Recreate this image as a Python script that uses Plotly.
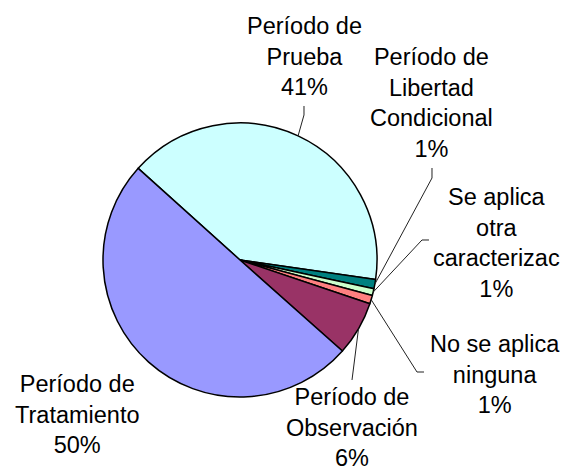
import math
import plotly.graph_objects as go

# ---- data ----
labels = ["Período de Prueba", "Período de Libertad Condicional",
          "Se aplica otra caracterizac", "No se aplica ninguna",
          "Período de Observación", "Período de Tratamiento"]
values = [40.6, 1.1, 0.8, 1.0, 6.4, 50.1]
label_text = ["Período de<br>Prueba", "Período de<br>Libertad<br>Condicional",
              "Se aplica<br>otra<br>caracterizac", "No se aplica<br>ninguna",
              "Período de<br>Observación", "Período de<br>Tratamiento"]
colors = ["#CCFFFF", "#008080", "#CCFFCC", "#FF8080", "#993366", "#9999FF"]

# ---- layout constants (pixels) ----
W, H = 565, 471
CX, CY, R = 240, 260, 137
ROTATION = -48
# label centres and leader elbows / ends (pixels); None = no leader
label_pos = [(304, 57), (431.5, 103), (496.7, 243), (494.7, 374), (351.7, 427), (77.5, 414)]
leaders = [[(304, 115), (304, 106)],
           [(432, 178), (432, 168)],
           [(422, 240), (429, 240)],
           [(417, 372), (424, 372)],
           [(352, 380)],
           None]

def px(x):
    return x / W

def py(y):
    return 1 - y / H

fig = go.Figure(go.Pie(
    labels=labels, values=values, sort=False, direction="clockwise",
    rotation=ROTATION, textinfo="none", hoverinfo="label+percent",
    marker=dict(colors=colors, line=dict(color="black", width=1.5)),
    domain=dict(x=[px(CX - R), px(CX + R)], y=[py(CY + R), py(CY - R)]),
    showlegend=False,
))

total = sum(values)
start = 90 - ROTATION  # math degrees
acc = 0.0
annotations = []
shapes = []
for i, v in enumerate(values):
    pct = round(100 * v / total)
    mid = math.radians(start - 360 * (acc + v / 2) / total)
    acc += v
    lx, ly = label_pos[i]
    annotations.append(dict(
        x=px(lx), y=py(ly), xref="paper", yref="paper",
        text=f"{label_text[i]}<br>{pct}%", showarrow=False,
        xanchor="center", yanchor="middle", align="center",
        font=dict(family="Liberation Sans, Arial", size=23.5, color="black")))
    if leaders[i]:
        sx = CX + R * math.cos(mid)
        sy = CY - R * math.sin(mid)
        pts = [(sx, sy)] + leaders[i]
        path = "M " + " L ".join(f"{px(a):.5f},{py(b):.5f}" for a, b in pts)
        shapes.append(dict(type="path", path=path, xref="paper", yref="paper",
                           line=dict(color="#222222", width=1)))

fig.update_layout(
    width=W, height=H, margin=dict(l=0, r=0, t=0, b=0),
    paper_bgcolor="white", plot_bgcolor="white",
    annotations=annotations, shapes=shapes,
)
fig.write_html("out.html", config={"displayModeBar": False},
               post_script="document.body.style.margin='0';")
